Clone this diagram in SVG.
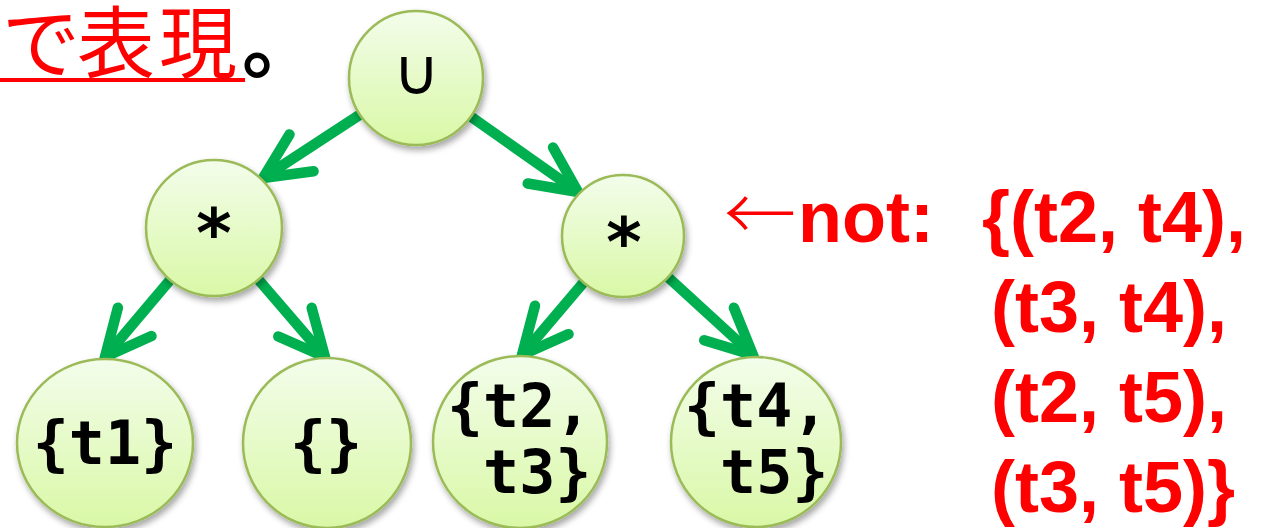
<svg xmlns="http://www.w3.org/2000/svg" width="1268" height="528" viewBox="0 0 1268 528">
  <defs>
    <linearGradient id="nodeFill" x1="0" y1="0" x2="0" y2="1">
      <stop offset="0" stop-color="#F3FDEB"/>
      <stop offset="1" stop-color="#D9F8A6"/>
    </linearGradient>
    <filter id="shadow" x="-20%" y="-20%" width="140%" height="150%">
      <feDropShadow dx="2" dy="4" stdDeviation="3" flood-color="#000" flood-opacity="0.35"/>
    </filter>
    <marker id="chevron" markerUnits="userSpaceOnUse" viewBox="-60 -40 80 80" markerWidth="80" markerHeight="80" refX="0" refY="0" orient="auto" overflow="visible">
      <path d="M-46,-22 L0,0 L-46,22" fill="none" stroke="#00B050" stroke-width="10.5" stroke-linecap="round" stroke-linejoin="miter"/>
    </marker>
  </defs>
  <style>
    .edge { fill: none; stroke: #00B050; stroke-width: 10.5; stroke-linecap: butt; marker-end: url(#chevron); }
    .node { fill: url(#nodeFill); stroke: #9BBB59; stroke-width: 2.5; filter: url(#shadow); }
    .op { font-family: "DejaVu Sans Mono", "Liberation Mono", monospace; font-weight: bold; font-size: 68px; fill: #000; text-anchor: middle; }
    .set { font-family: "DejaVu Sans Mono", "Liberation Mono", monospace; font-weight: bold; font-size: 60px; fill: #000; }
    .red { font-family: "Liberation Sans", Arial, sans-serif; font-weight: bold; font-size: 72px; fill: #FF0000; }
    .jp { font-family: "Noto Sans CJK JP", sans-serif; font-size: 78px; }
  </style>

  <rect width="1268" height="528" fill="#FFFFFF"/>

  <!-- caption fragment, top left -->
  <g id="caption">
    <text class="jp" x="2 77 159" y="72" fill="#FF0000">で表現</text>
    <line x1="0" y1="80" x2="245" y2="80" stroke="#FF0000" stroke-width="4"/>
    <text class="jp" x="242" y="72" font-weight="bold" fill="#000000">。</text>
  </g>

  <!-- connectors -->
  <g id="connectors">
    <path class="edge" d="M416,78 L263,178"/>
    <path class="edge" d="M416,78 L578,192"/>
    <path class="edge" d="M214,228 L105,357"/>
    <path class="edge" d="M214,228 L325,357"/>
    <path class="edge" d="M623,236 L522,355"/>
    <path class="edge" d="M623,236 L753,355"/>
  </g>

  <g id="node-union">
    <circle class="node" cx="416" cy="78" r="67"/>
    <text x="416" y="94" font-family="'DejaVu Sans', sans-serif" font-weight="200" font-size="64" text-anchor="middle" fill="#000">∪</text>
  </g>

  <g id="node-prod-left">
    <circle class="node" cx="214" cy="228" r="68"/>
    <text class="op" x="214" y="257">*</text>
  </g>

  <g id="node-prod-right">
    <circle class="node" cx="623" cy="236" r="61"/>
    <text class="op" x="624" y="266">*</text>
  </g>

  <g id="node-t1">
    <ellipse class="node" cx="105" cy="443" rx="88" ry="84"/>
    <text class="set" x="105" y="464" text-anchor="middle">{t1}</text>
  </g>

  <g id="node-empty">
    <ellipse class="node" cx="327" cy="443" rx="84" ry="85"/>
    <text class="set" x="326" y="464" text-anchor="middle">{}</text>
  </g>

  <g id="node-t2-t3">
    <ellipse class="node" cx="520" cy="442" rx="87" ry="86"/>
    <text class="set" x="447" y="427" xml:space="preserve">{t2,</text>
    <text class="set" x="447" y="493" xml:space="preserve"> t3}</text>
  </g>

  <g id="node-t4-t5">
    <ellipse class="node" cx="756" cy="442" rx="85" ry="85"/>
    <text class="set" x="684" y="427" xml:space="preserve">{t4,</text>
    <text class="set" x="684" y="493" xml:space="preserve"> t5}</text>
  </g>

  <!-- annotation for the right product node -->
  <g id="note">
    <text x="724" y="240" font-family="'Noto Sans CJK JP', sans-serif" font-weight="300" font-size="72" fill="#FF0000">←</text>
    <text class="red" x="798" y="242">not:</text>
    <text class="red" x="982" y="242">{(t2, t4),</text>
    <text class="red" x="991" y="332">(t3, t4),</text>
    <text class="red" x="991" y="422">(t2, t5),</text>
    <text class="red" x="991" y="512">(t3, t5)}</text>
  </g>
</svg>
